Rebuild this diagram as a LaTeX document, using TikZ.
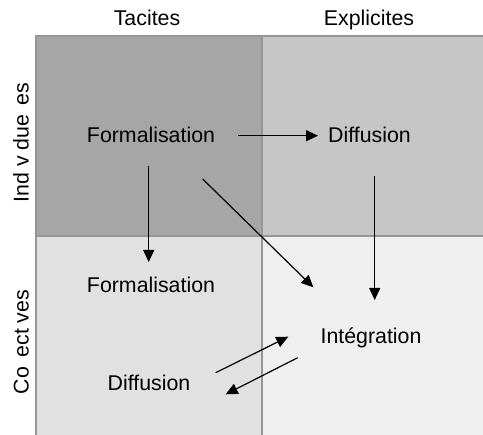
\documentclass[tikz,border=0pt]{standalone}
\usepackage{fontspec}
\setmainfont{Liberation Sans}
\usetikzlibrary{arrows.meta}
\definecolor{tacind}{HTML}{A6A6A6}
\definecolor{expind}{HTML}{C6C6C6}
\definecolor{taccol}{HTML}{E1E1E1}
\definecolor{expcol}{HTML}{EFEFEF}
\definecolor{gridline}{HTML}{969696}
\begin{document}
\begin{tikzpicture}[x=1pt,y=-1pt,
  lbl/.style={inner sep=0pt,anchor=base,font=\fontsize{21.33}{25}\selectfont},
  flow/.style={line width=1.2pt,-{Triangle[length=12pt,width=11pt]}},
  sep/.style={draw=gridline,line width=2pt}]
\useasboundingbox (0,0) rectangle (483,435);
% quadrant fills
\fill[tacind] (36,36) rectangle (262,236);
\fill[expind] (262,36) rectangle (483,236);
\fill[taccol] (36,236) rectangle (262,435);
\fill[expcol] (262,236) rectangle (483,435);
% separating lines
\draw[sep] (36,435) -- (36,36) -- (483,36);
\draw[sep] (262,36) -- (262,435);
\draw[sep] (36,236) -- (483,236);
% column and row headings
\node[lbl] (tac) at (147,26) {Tacites};
\node[lbl] (exp) at (369,26) {Explicites};
\node[lbl,rotate=90] (ind) at (28.5,142.5) {Ind v due\hspace{0.17em} es};
\node[lbl,rotate=90] (col) at (28.5,342) {Co\hspace{0.17em} ect ves};
% process labels
\node[lbl] (form1) at (151,142.5) {Formalisation};
\node[lbl] (diff1) at (369.5,142.5) {Diffusion};
\node[lbl] (form2) at (151,293) {Formalisation};
\node[lbl] (integ) at (371,344) {Intégration};
\node[lbl] (diff2) at (149,391) {Diffusion};
% arrow end points
\coordinate (a1s) at (238,135.7);
\coordinate (a1e) at (318,135.7);
\coordinate (a2s) at (148.7,165.7);
\coordinate (a2e) at (148.7,262);
\coordinate (a3s) at (202.7,179);
\coordinate (a3e) at (313.3,287.3);
\coordinate (a4s) at (374.7,176);
\coordinate (a4e) at (374.7,300);
\coordinate (a5s) at (215.7,372.7);
\coordinate (a5e) at (288.3,336.7);
\coordinate (a6s) at (297.7,357.7);
\coordinate (a6e) at (225.7,394.3);
% arrows
\draw[flow] (a1s) -- (a1e);
\draw[flow] (a2s) -- (a2e);
\draw[flow] (a3s) -- (a3e);
\draw[flow] (a4s) -- (a4e);
\draw[flow] (a5s) -- (a5e);
\draw[flow] (a6s) -- (a6e);
\end{tikzpicture}
\end{document}
